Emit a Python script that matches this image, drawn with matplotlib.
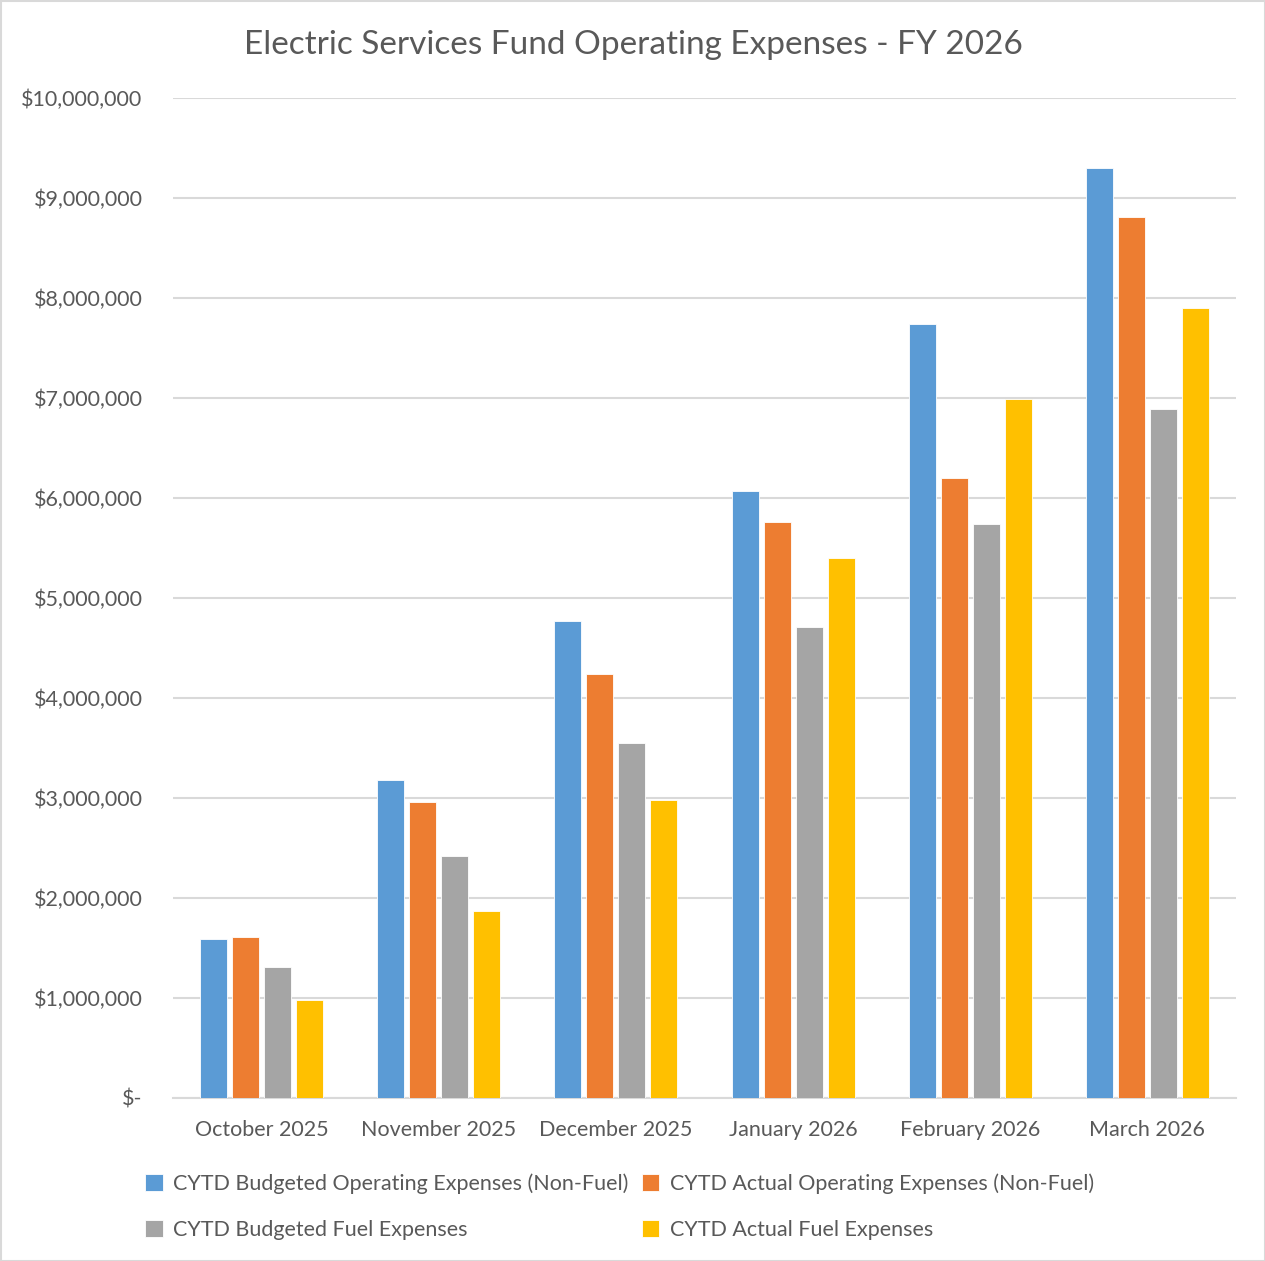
import matplotlib
matplotlib.use("Agg")
import matplotlib.pyplot as plt
import numpy as np
from matplotlib.ticker import FuncFormatter
from matplotlib.patches import Rectangle

plt.rcParams['font.family'] = ['Lato', 'DejaVu Sans']

months = ["October 2025", "November 2025", "December 2025",
          "January 2026", "February 2026", "March 2026"]
budget_nonfuel = [1590000, 3180000, 4770000, 6070000, 7740000, 9300000]
actual_nonfuel = [1610000, 2960000, 4240000, 5760000, 6200000, 8810000]
budget_fuel = [1310000, 2420000, 3550000, 4710000, 5740000, 6890000]
actual_fuel = [980000, 1870000, 2980000, 5400000, 6990000, 7900000]

series = [
    ("CYTD Budgeted Operating Expenses (Non-Fuel)", budget_nonfuel, "#5b9bd5"),
    ("CYTD Actual Operating Expenses (Non-Fuel)", actual_nonfuel, "#ed7d31"),
    ("CYTD Budgeted Fuel Expenses", budget_fuel, "#a5a5a5"),
    ("CYTD Actual Fuel Expenses", actual_fuel, "#ffc000"),
]

fig = plt.figure(figsize=(12.65, 12.61), dpi=100)
ax = fig.add_axes([173 / 1265, 163 / 1261, 1063 / 1265, 1000 / 1261])

x = np.arange(len(months))
step = 32 / 177
width = 27 / 177
bars = []
for i, (name, vals, color) in enumerate(series):
    b = ax.bar(x + (i - 1.5) * step, vals, width=width, color=color,
               edgecolor="white", linewidth=0.6, label=name, zorder=3)
    bars.append(b)

ax.set_xlim(-0.5, len(months) - 0.5)
ax.set_ylim(0, 10000000)
ax.set_yticks(np.arange(0, 10000001, 1000000))
ax.yaxis.set_major_formatter(FuncFormatter(
    lambda v, p: "$-" if v == 0 else "${:,.0f}".format(v)))
ax.set_xticks(x)
ax.set_xticklabels(months)
ax.tick_params(axis="both", length=0, labelsize=15.5, colors="#595959")
ax.tick_params(axis="y", pad=22)
ax.tick_params(axis="x", pad=16)
ax.grid(axis="y", color="#d9d9d9", linewidth=1.5, zorder=0)
for s in ["top", "right", "left"]:
    ax.spines[s].set_visible(False)
ax.spines["bottom"].set_color("#d9d9d9")
ax.spines["bottom"].set_linewidth(1.5)

fig.text(633 / 1265, 1 - 45 / 1261, "Electric Services Fund Operating Expenses - FY 2026",
         ha="center", va="center", fontsize=24, color="#595959")

order = [0, 2, 1, 3]
handles = [bars[i] for i in order]
labels = [series[i][0] for i in order]
leg = fig.legend(handles, labels, ncol=2, loc="upper left",
                 bbox_to_anchor=(126 / 1265, 1 - 1154 / 1261), frameon=False,
                 fontsize=15.5, handlelength=0.8, handleheight=0.8,
                 handletextpad=0.5, columnspacing=0.6, labelspacing=1.2)
for t in leg.get_texts():
    t.set_color("#595959")

fig.patches.append(Rectangle((0.5 / 1265, 0.5 / 1261), 1 - 1 / 1265, 1 - 1 / 1261,
                             transform=fig.transFigure, fill=False,
                             edgecolor="#d9d9d9", linewidth=1.5))

fig.savefig("out.png", dpi=100, facecolor="white")
